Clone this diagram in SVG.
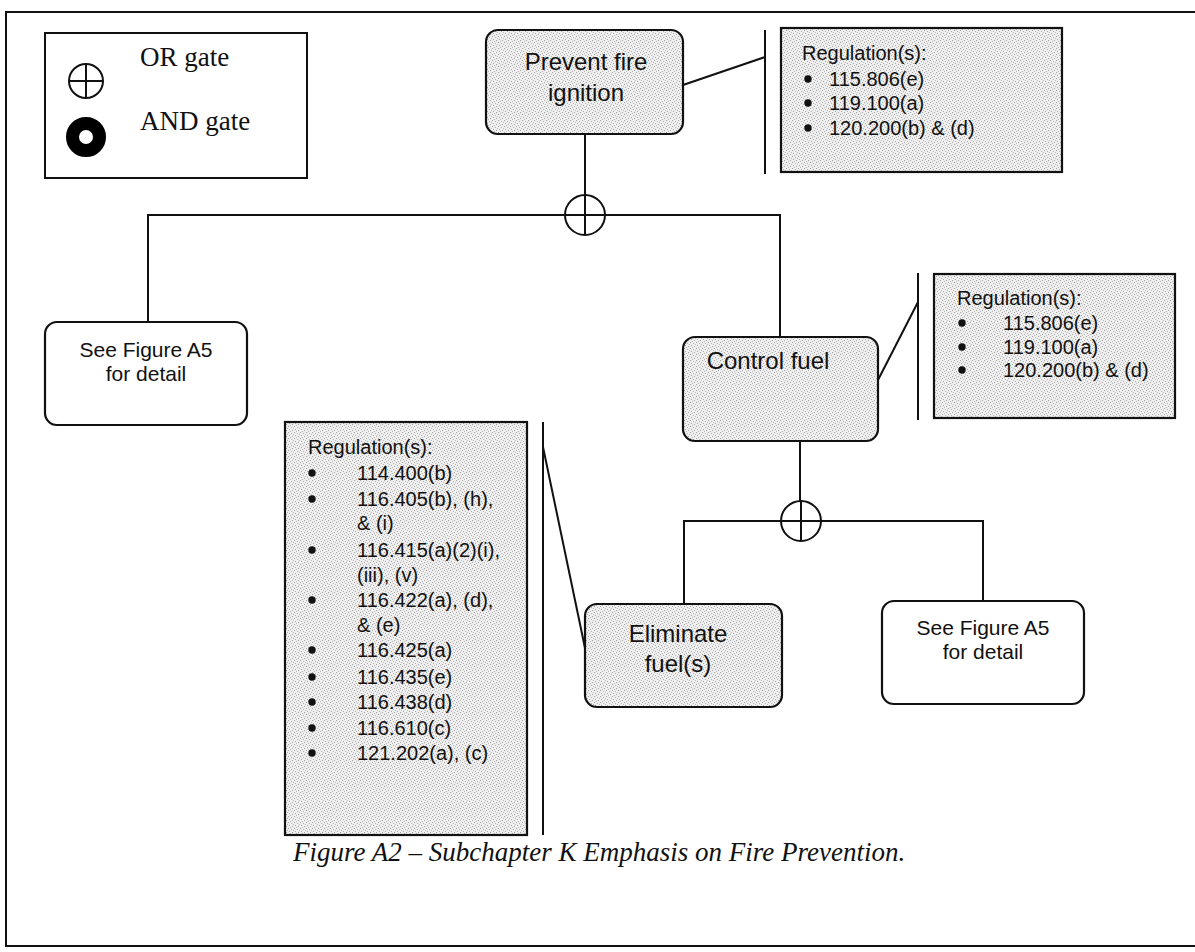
<svg xmlns="http://www.w3.org/2000/svg" width="1195" height="952" viewBox="0 0 1195 952">
  <defs>
    <!-- light dithered gray used for the shaded boxes -->
    <pattern id="stipple" width="6" height="6" patternUnits="userSpaceOnUse">
      <rect width="6" height="6" fill="#efefef"/>
      <rect x="0" y="0" width="1" height="1" fill="#a0a0a0"/>
      <rect x="3" y="1" width="1" height="1" fill="#b0b0b0"/>
      <rect x="1" y="3" width="1" height="1" fill="#a8a8a8"/>
      <rect x="4" y="4" width="1" height="1" fill="#a4a4a4"/>
      <rect x="5" y="2" width="1" height="1" fill="#bcbcbc"/>
      <rect x="2" y="5" width="1" height="1" fill="#b8b8b8"/>
    </pattern>
  </defs>
  <style>
    .frame { fill: none; stroke: #111; stroke-width: 2; }
    .box { stroke: #111; stroke-width: 2.2; }
    .shaded { fill: url(#stipple); }
    .plain { fill: #fff; }
    .line { fill: none; stroke: #111; stroke-width: 2; }
    .gate { fill: #fff; stroke: #111; stroke-width: 2; }
    .dot { fill: #111; }
    .title { font-family: "Liberation Sans", Arial, sans-serif; font-size: 24px; fill: #111; text-anchor: middle; }
    .note { font-family: "Liberation Sans", Arial, sans-serif; font-size: 21px; fill: #111; text-anchor: middle; }
    .reg { font-family: "Liberation Sans", Arial, sans-serif; font-size: 20px; fill: #111; }
    .legend { font-family: "Liberation Serif", "Times New Roman", serif; font-size: 27px; fill: #111; }
    .caption { font-family: "Liberation Serif", "Times New Roman", serif; font-size: 27px; font-style: italic; fill: #111; }
  </style>

  <rect width="1195" height="952" fill="#fff"/>

  <!-- page frame (open on the right) -->
  <path class="frame" d="M1195 12 H6 V946 H1195"/>

  <!-- legend -->
  <g id="legend">
    <rect x="45" y="33" width="262" height="145" fill="#fff" stroke="#111" stroke-width="2"/>
    <circle cx="86" cy="81" r="17" class="gate"/>
    <path class="line" d="M69 81 H103 M86 64 V98"/>
    <text class="legend" x="140" y="66">OR gate</text>
    <circle cx="86" cy="137" r="13.5" fill="none" stroke="#000" stroke-width="13"/>
    <text class="legend" x="140" y="130">AND gate</text>
  </g>

  <!-- connectors -->
  <g id="connectors">
    <!-- Prevent fire ignition -> OR gate -> branches -->
    <path class="line" d="M585 134 V235"/>
    <path class="line" d="M148 322 V215 H780 V337"/>
    <!-- Control fuel -> OR gate -> branches -->
    <path class="line" d="M800 441 V541"/>
    <path class="line" d="M684 604 V521 H983 V601"/>
    <!-- regulation call-outs -->
    <path class="line" d="M683 85 L765 57"/>
    <path class="line" d="M765 30 V174"/>
    <path class="line" d="M878 380 L918 302"/>
    <path class="line" d="M918 273 V420"/>
    <path class="line" d="M543 447 L585 648"/>
    <path class="line" d="M543 422 V835"/>
  </g>

  <!-- OR gates -->
  <g id="gate-top">
    <circle cx="585" cy="215" r="20" class="gate"/>
    <path class="line" d="M565 215 H605 M585 195 V235"/>
  </g>
  <g id="gate-fuel">
    <circle cx="801" cy="521" r="20" class="gate"/>
    <path class="line" d="M781 521 H821 M801 501 V541"/>
  </g>

  <g id="prevent-fire-ignition">
    <rect class="box shaded" x="486" y="30" width="197" height="104" rx="12"/>
    <text class="title" x="586" y="70">Prevent fire</text>
    <text class="title" x="586" y="101">ignition</text>
  </g>

  <g id="regs-ignition">
    <rect class="box shaded" x="781" y="28" width="281" height="144"/>
    <text class="reg" x="802" y="60">Regulation(s):</text>
    <circle class="dot" cx="808" cy="79" r="3.7"/>
    <circle class="dot" cx="808" cy="103" r="3.7"/>
    <circle class="dot" cx="808" cy="128" r="3.7"/>
    <text class="reg" x="829" y="86">115.806(e)</text>
    <text class="reg" x="829" y="110">119.100(a)</text>
    <text class="reg" x="829" y="135">120.200(b) &amp; (d)</text>
  </g>

  <g id="see-a5-left">
    <rect class="box plain" x="45" y="322" width="202" height="103" rx="12"/>
    <text class="note" x="146" y="357">See Figure A5</text>
    <text class="note" x="146" y="381">for detail</text>
  </g>

  <g id="control-fuel">
    <rect class="box shaded" x="683" y="337" width="195" height="104" rx="12"/>
    <text class="title" x="768" y="369">Control fuel</text>
  </g>

  <g id="regs-control">
    <rect class="box shaded" x="934" y="274" width="241" height="144"/>
    <text class="reg" x="957" y="305">Regulation(s):</text>
    <circle class="dot" cx="962" cy="323" r="3.7"/>
    <circle class="dot" cx="962" cy="347" r="3.7"/>
    <circle class="dot" cx="962" cy="370" r="3.7"/>
    <text class="reg" x="1003" y="330">115.806(e)</text>
    <text class="reg" x="1003" y="354">119.100(a)</text>
    <text class="reg" x="1003" y="377">120.200(b) &amp; (d)</text>
  </g>

  <g id="eliminate-fuels">
    <rect class="box shaded" x="585" y="604" width="197" height="103" rx="12"/>
    <text class="title" x="678" y="642">Eliminate</text>
    <text class="title" x="678" y="672">fuel(s)</text>
  </g>

  <g id="see-a5-right">
    <rect class="box plain" x="882" y="601" width="202" height="103" rx="12"/>
    <text class="note" x="983" y="635">See Figure A5</text>
    <text class="note" x="983" y="659">for detail</text>
  </g>

  <g id="regs-eliminate">
    <rect class="box shaded" x="285" y="422" width="242" height="413"/>
    <text class="reg" x="308" y="454">Regulation(s):</text>
    <circle class="dot" cx="312" cy="473" r="3.7"/>
    <circle class="dot" cx="312" cy="499" r="3.7"/>
    <circle class="dot" cx="312" cy="550" r="3.7"/>
    <circle class="dot" cx="312" cy="600" r="3.7"/>
    <circle class="dot" cx="312" cy="650" r="3.7"/>
    <circle class="dot" cx="312" cy="677" r="3.7"/>
    <circle class="dot" cx="312" cy="702" r="3.7"/>
    <circle class="dot" cx="312" cy="728" r="3.7"/>
    <circle class="dot" cx="312" cy="753" r="3.7"/>
    <text class="reg" x="357" y="480">114.400(b)</text>
    <text class="reg" x="357" y="506">116.405(b), (h),</text>
    <text class="reg" x="357" y="530">&amp; (i)</text>
    <text class="reg" x="357" y="557">116.415(a)(2)(i),</text>
    <text class="reg" x="357" y="582">(iii), (v)</text>
    <text class="reg" x="357" y="607">116.422(a), (d),</text>
    <text class="reg" x="357" y="632">&amp; (e)</text>
    <text class="reg" x="357" y="657">116.425(a)</text>
    <text class="reg" x="357" y="684">116.435(e)</text>
    <text class="reg" x="357" y="709">116.438(d)</text>
    <text class="reg" x="357" y="735">116.610(c)</text>
    <text class="reg" x="357" y="760">121.202(a), (c)</text>
  </g>

  <text class="caption" x="293" y="861">Figure A2 – Subchapter K Emphasis on Fire Prevention.</text>
</svg>
